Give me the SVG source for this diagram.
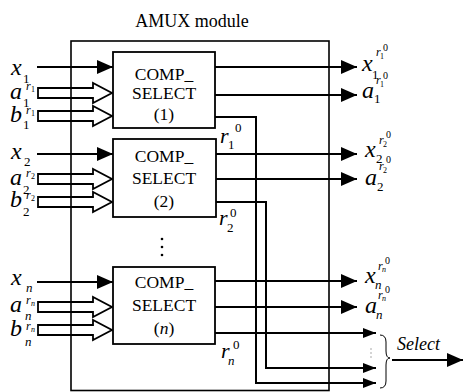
<svg xmlns="http://www.w3.org/2000/svg" width="463" height="392" viewBox="0 0 463 392">
<style>
.ln{stroke:#000;stroke-width:2;fill:none}
.box{stroke:#000;stroke-width:1.8;fill:#fff}
.hol{stroke:#000;stroke-width:1.8;fill:#fff}
.t{font-family:"Liberation Serif",serif;font-size:18px;fill:#000}
.bt{font-family:"Liberation Serif",serif;font-size:17.5px;fill:#000;text-anchor:middle}
.m{font-family:"Liberation Serif",serif;font-style:italic;font-size:24px;fill:#000}
.s{font-family:"Liberation Serif",serif;font-size:13px;fill:#000}
.si{font-family:"Liberation Serif",serif;font-style:italic;font-size:13px;fill:#000}
.r{font-family:"Liberation Serif",serif;font-style:italic;font-size:12px;fill:#000}
.tn{font-family:"Liberation Serif",serif;font-size:8px;fill:#000}
.tni{font-family:"Liberation Serif",serif;font-style:italic;font-size:8px;fill:#000}
.z{font-family:"Liberation Serif",serif;font-size:10px;fill:#000}
.rr{font-family:"Liberation Serif",serif;font-style:italic;font-size:22px;fill:#000}
.rs{font-family:"Liberation Serif",serif;font-size:13px;fill:#000}
.sel{font-family:"Liberation Serif",serif;font-style:italic;font-size:18px;fill:#000}
</style>
<defs>
<marker id="ah" markerUnits="userSpaceOnUse" markerWidth="17" markerHeight="15" refX="16" refY="7" orient="auto">
<path d="M0,0 L16,7 L0,14 Z" fill="#000"/>
</marker>
<marker id="ahs" markerUnits="userSpaceOnUse" markerWidth="14" markerHeight="11" refX="13" refY="5" orient="auto">
<path d="M0,0 L13,5 L0,10 Z" fill="#000"/>
</marker>
<path id="hollow" d="M0,-5 H55 V-10 L74,0 L55,10 V5 H0 Z"/>
</defs>

<text class="t" x="192" y="27" text-anchor="middle">AMUX module</text>

<g id="inputs">
<line class="ln" x1="37" y1="67" x2="113" y2="67" marker-end="url(#ah)"/>
<use href="#hollow" class="hol" x="38" y="93"/>
<use href="#hollow" class="hol" x="38" y="116"/>
<line class="ln" x1="37" y1="154" x2="113" y2="154" marker-end="url(#ah)"/>
<use href="#hollow" class="hol" x="38" y="179"/>
<use href="#hollow" class="hol" x="38" y="202"/>
<line class="ln" x1="37" y1="282" x2="113" y2="282" marker-end="url(#ah)"/>
<use href="#hollow" class="hol" x="38" y="307"/>
<use href="#hollow" class="hol" x="38" y="330"/>
</g>

<g id="module">
<rect x="71" y="41" width="258" height="349.5" fill="none" stroke="#000" stroke-width="1.6"/>
</g>

<g id="box1">
<rect class="box" x="113" y="52" width="102" height="76"/>
<text class="bt" x="164" y="80">COMP_</text>
<text class="bt" x="164" y="99">SELECT</text>
<text class="bt" x="164" y="120">(1)</text>
</g>
<g id="box2">
<rect class="box" x="113" y="139" width="103" height="78"/>
<text class="bt" x="164" y="162">COMP_</text>
<text class="bt" x="164" y="184">SELECT</text>
<text class="bt" x="164" y="207">(2)</text>
</g>
<g id="dots">
<circle cx="162" cy="239" r="1.3"/>
<circle cx="162" cy="247" r="1.3"/>
<circle cx="162" cy="255" r="1.3"/>
</g>
<g id="boxn">
<rect class="box" x="113" y="267" width="102" height="77"/>
<text class="bt" x="164" y="288">COMP_</text>
<text class="bt" x="164" y="311">SELECT</text>
<text class="bt" x="164" y="334">(<tspan font-style="italic">n</tspan>)</text>
</g>

<g id="connectors">
<line class="ln" x1="215" y1="67" x2="357" y2="67" marker-end="url(#ah)"/>
<line class="ln" x1="215" y1="95" x2="357" y2="95" marker-end="url(#ah)"/>
<line class="ln" x1="216" y1="154" x2="357" y2="154" marker-end="url(#ah)"/>
<line class="ln" x1="216" y1="179" x2="357" y2="179" marker-end="url(#ah)"/>
<line class="ln" x1="215" y1="281" x2="357" y2="281" marker-end="url(#ah)"/>
<line class="ln" x1="215" y1="307" x2="357" y2="307" marker-end="url(#ah)"/>
<line class="ln" x1="215" y1="333" x2="376" y2="333" marker-end="url(#ahs)"/>
<polyline class="ln" points="215,117 256,117 256,383 376,383" marker-end="url(#ahs)"/>
<polyline class="ln" points="216,202 266,202 266,368 376,368" marker-end="url(#ahs)"/>
<line class="ln" x1="392" y1="360" x2="463" y2="360" marker-end="url(#ah)"/>
<path d="M380,335 Q386,335 386,342 L386,351 Q386,358 390,358 Q386,358 386,365 L386,381 Q386,388 380,388" fill="none" stroke="#000" stroke-width="1"/>
<circle cx="371" cy="349" r="0.7" fill="#888"/>
<circle cx="371" cy="353" r="0.7" fill="#888"/>
<circle cx="371" cy="357" r="0.7" fill="#888"/>
</g>

<g id="labels-left">
<text class="m" x="11" y="75">x</text><text class="s" x="23" y="83">1</text>
<text class="m" x="10" y="99">a</text><text class="r" x="26" y="90">r</text><text class="tn" x="31" y="92">1</text><text class="s" x="23" y="107">1</text>
<text class="m" x="10" y="122">b</text><text class="r" x="26" y="114">r</text><text class="tn" x="31" y="116">1</text><text class="s" x="23" y="129">1</text>

<text class="m" x="11" y="159">x</text><text class="s" x="24" y="166">2</text>
<text class="m" x="10" y="185">a</text><text class="r" x="26" y="177">r</text><text class="tn" x="31" y="179">2</text><text class="s" x="23" y="194">2</text>
<text class="m" x="10" y="207">b</text><text class="r" x="26" y="199">r</text><text class="tn" x="31" y="201">2</text><text class="s" x="23" y="216">2</text>

<text class="m" x="11" y="285">x</text><text class="si" x="26" y="292">n</text>
<text class="m" x="10" y="312">a</text><text class="r" x="26" y="304">r</text><text class="tni" x="31" y="306">n</text><text class="si" x="25" y="320">n</text>
<text class="m" x="10" y="336">b</text><text class="r" x="26" y="330">r</text><text class="tni" x="31" y="332">n</text><text class="si" x="25" y="346">n</text>
</g>

<g id="labels-right">
<text class="m" x="362" y="71">x</text><text class="s" x="372" y="79">1</text><text class="r" x="376" y="56">r</text><text class="tn" x="380" y="59">1</text><text class="z" x="383" y="51">0</text>
<text class="m" x="362" y="98">a</text><text class="s" x="374" y="103">1</text><text class="r" x="376" y="84">r</text><text class="tn" x="380" y="87">1</text><text class="z" x="383" y="79">0</text>

<text class="m" x="365" y="157">x</text><text class="s" x="376" y="163">2</text><text class="r" x="379" y="144">r</text><text class="tn" x="383" y="147">2</text><text class="z" x="386" y="138">0</text>
<text class="m" x="365" y="185">a</text><text class="s" x="377" y="191">2</text><text class="r" x="379" y="170">r</text><text class="tn" x="383" y="173">2</text><text class="z" x="386" y="163">0</text>

<text class="m" x="365" y="283">x</text><text class="si" x="375" y="289">n</text><text class="r" x="378" y="270">r</text><text class="tni" x="382" y="272">n</text><text class="z" x="385" y="264">0</text>
<text class="m" x="365" y="313">a</text><text class="si" x="376" y="319">n</text><text class="r" x="378" y="299">r</text><text class="tni" x="382" y="301">n</text><text class="z" x="385" y="293">0</text>

<text class="rr" x="220" y="143">r</text><text class="rs" x="228" y="149">1</text><text class="rs" x="235" y="132">0</text>
<text class="rr" x="219" y="225">r</text><text class="rs" x="227" y="232">2</text><text class="rs" x="230" y="217">0</text>
<text class="rr" x="221" y="358">r</text><text class="rs" x="228" y="365" font-style="italic">n</text><text class="rs" x="233" y="349">0</text>

<text class="sel" x="397" y="350">Select</text>
</g>
</svg>
